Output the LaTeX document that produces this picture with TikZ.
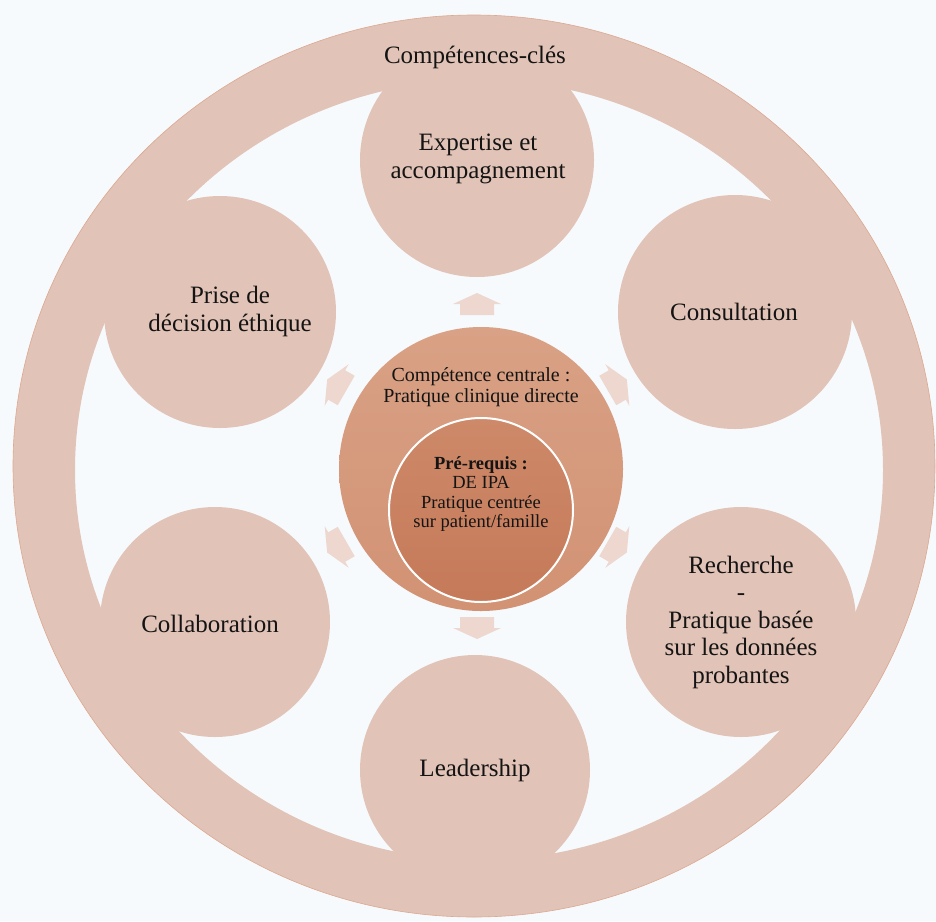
\documentclass[tikz,border=0pt]{standalone}
\usepackage{fontspec}
\setmainfont{Liberation Serif}
\definecolor{bg}{HTML}{F6FAFD}
\definecolor{ringc}{HTML}{E2C3B7}
\definecolor{ringedge}{HTML}{DCA890}
\definecolor{arrowc}{HTML}{EDD7CE}
\definecolor{centtop}{HTML}{D9A185}
\definecolor{centbot}{HTML}{D29274}
\definecolor{innertop}{HTML}{CD8969}
\definecolor{innerbot}{HTML}{C57A59}
\definecolor{txt}{HTML}{141414}
\tikzset{
  sat/.style={fill=ringc},
  biglabel/.style={text=txt, align=center, font=\fontsize{25}{28}\selectfont},
  midlabel/.style={text=txt, align=center, font=\fontsize{20}{21.5}\selectfont},
  smalllabel/.style={text=txt, align=center, font=\fontsize{18.5}{19.5}\selectfont},
  blockarrow/.style={fill=arrowc}
}
\begin{document}
\begin{tikzpicture}[x=1pt,y=-1pt]
\fill[bg] (0,0) rectangle (936,921);
\useasboundingbox (0,0) rectangle (936,921);
% outer ring
\fill[ringc, even odd rule] (474,466) ellipse [x radius=461pt, y radius=451pt]
  (479,470) ellipse [x radius=404pt, y radius=390pt];
\draw[ringedge, line width=0.6pt] (474,466) ellipse [x radius=461pt, y radius=451pt];
% satellites
\fill[sat] (477,160) circle[radius=117pt];
\fill[sat] (735,312) circle[radius=117pt];
\fill[sat] (741,622) circle[radius=115pt];
\fill[sat] (475,770) circle[radius=115pt];
\fill[sat] (215,622) circle[radius=115pt];
\fill[sat] (220,312) circle[radius=116pt];
% arrows
\foreach \a in {90,30,-30,-90,-150,150} {
  \begin{scope}[shift={({477+162*cos(\a)},{466-162*sin(\a)})}, rotate=\a]
    \fill[blockarrow] (-11,-17) -- (0,-17) -- (0,-24) -- (11,0) -- (0,24) -- (0,17) -- (-11,17) -- cycle;
  \end{scope}
}
% center circles
\shade[top color=centtop, bottom color=centbot] (481,469) circle[radius=142pt];
\shade[top color=innertop, bottom color=innerbot] (481,510) circle[radius=92pt];
\draw[white, line width=2pt] (481,510) circle[radius=92pt];
% labels
\node[biglabel] (cc) at (475,57) {Compétences-clés};
\node[biglabel] (exp) at (478,159) {Expertise et\\accompagnement};
\node[biglabel] (cons) at (734,312) {Consultation};
\node[biglabel] (eth) at (230,311) {Prise de\\décision éthique};
\node[biglabel] (coll) at (210,624) {Collaboration};
\node[biglabel, font=\fontsize{25}{27.5}\selectfont] (rech) at (741,622) {Recherche\\-\\Pratique basée\\sur les données\\probantes};
\node[biglabel] (lead) at (475,770) {Leadership};
\node[midlabel] (cent) at (481,387) {Compétence centrale :\\Pratique clinique directe};
\node[smalllabel] (pre) at (481,494) {\textbf{Pré-requis :}\\DE IPA\\Pratique centrée\\sur patient/famille};
\end{tikzpicture}
\end{document}
